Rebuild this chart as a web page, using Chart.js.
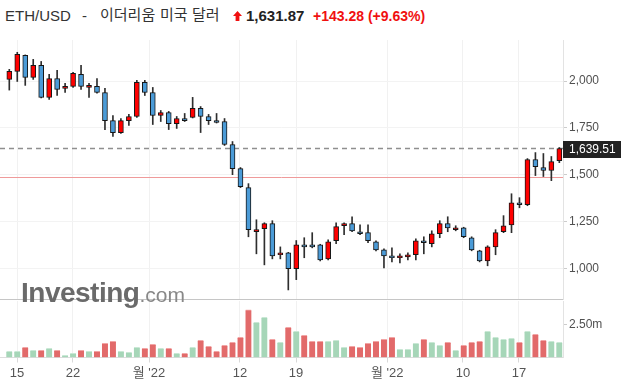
<!DOCTYPE html>
<html><head><meta charset="utf-8">
<script src="https://cdn.jsdelivr.net/npm/chart.js@4.4.1/dist/chart.umd.min.js"></script>
<style>
html,body{margin:0;padding:0;background:#fff;width:621px;height:388px;overflow:hidden;font-family:"Liberation Sans","Noto Sans CJK KR",Arial,sans-serif;}
#wrap{position:relative;width:621px;height:388px;}
.t{position:absolute;white-space:nowrap;line-height:20px;font-size:15px;color:#333;}
.k{font-family:"Noto Sans CJK KR",sans-serif;top:4px;}
.l{top:6px;}
canvas{position:absolute;left:0;}
#pc{top:30px;}
#vc{top:300px;}
#wm{position:absolute;left:21px;top:278px;line-height:30px;white-space:nowrap;color:#6a6a6a;}
#wm b{font-size:28px;font-weight:bold;letter-spacing:-0.5px;}
#wm span{font-size:21px;color:#888;}
</style></head>
<body><div id="wrap">
<span class="t l" style="left:5px">ETH/USD</span>
<span class="t l" style="left:82px">-</span>
<span class="t k" style="left:100px">이더리움</span>
<span class="t k" style="left:160px">미국</span>
<span class="t k" style="left:192px">달러</span>
<svg style="position:absolute;left:233px;top:11px" width="9" height="10" viewBox="0 0 9 10"><polygon points="4.5,0 9,5 6.4,5 6.4,10 2.6,10 2.6,5 0,5" fill="#f01010"/></svg>
<span class="t l" style="left:246px;font-weight:bold;color:#222">1,631.87</span>
<span class="t l" style="left:313px;font-weight:bold;font-size:14px;color:#f01010">+143.28 (+9.63%)</span>
<canvas id="pc" width="621" height="270"></canvas>
<canvas id="vc" width="621" height="88"></canvas>
<div id="wm"><b>Investing</b><span>.com</span></div>
</div>
<script>
const xLabels = ["15","22","월 '22","12","19","월 '22","10","17"];
const xTickPos = [0.97, 7.99, 17.53, 28.94, 35.97, 47.4, 56.9, 63.94];
const priceTicks = [1000,1250,1500,1750,2000];
const volTicks = [2.5];
const lastPrice = 1639.51;
const prevClose = 1488.59;

const open  = [2009,2052,2138,2020,2084,1913,2014,1961,1972,2036,1966,1972,1939,1789,1725,1789,1811,1993,1939,1816,1832,1773,1800,1806,1854,1811,1789,1784,1661,1532,1431,1195,1211,1238,1072,1082,997,1125,1125,1125,1050,1147,1227,1238,1195,1190,1141,1098,1066,1056,1061,1072,1147,1131,1184,1238,1206,1216,1163,1093,1039,1114,1195,1232,1350,1339,1581,1538,1522,1575];
const high  = [2063,2154,2140,2116,2105,2036,2057,1988,2047,2084,1988,2014,1961,1816,1800,1822,2004,2004,1966,1843,1838,1811,1827,1913,1864,1822,1827,1800,1677,1538,1452,1259,1243,1254,1114,1085,1148,1163,1190,1128,1152,1243,1243,1275,1232,1232,1147,1104,1109,1077,1082,1157,1168,1200,1254,1275,1227,1219,1168,1096,1120,1206,1281,1398,1377,1586,1618,1613,1597,1645];
const low   = [1952,1998,1977,2009,1910,1902,1923,1939,1966,1956,1913,1936,1741,1704,1720,1763,1806,1923,1768,1784,1741,1747,1784,1803,1725,1768,1776,1656,1500,1431,1168,1077,1018,1050,1050,884,939,1056,1109,1039,1045,1131,1179,1195,1179,1136,1093,1002,1034,1029,1045,1045,1077,1114,1163,1195,1200,1163,1093,1034,1013,1072,1190,1190,1323,1334,1495,1490,1468,1564];
const close = [2052,2143,2020,2084,1913,2014,1956,1972,2041,1972,1977,1940,1789,1725,1789,1811,1993,1939,1816,1832,1773,1800,1789,1854,1811,1789,1779,1661,1532,1436,1206,1206,1238,1066,1082,997,1125,1114,1114,1045,1141,1222,1238,1200,1184,1147,1098,1066,1056,1066,1072,1147,1136,1184,1238,1216,1216,1168,1098,1039,1114,1190,1227,1350,1339,1581,1543,1522,1570,1639.51];
const volume = [0.47,0.47,0.77,0.54,0.54,0.69,0.54,0.17,0.32,0.54,0.47,0.47,1.07,1.22,0.47,0.39,0.77,0.69,0.99,0.69,0.69,0.32,0.32,0.77,1.30,0.84,0.47,0.92,1.14,1.52,3.58,2.65,3.03,1.37,1.14,2.27,1.97,1.67,1.22,1.22,1.22,1.30,0.77,0.84,0.77,1.07,1.22,1.37,1.52,0.62,0.62,1.07,1.37,1.14,0.92,1.14,0.54,0.92,1.14,1.22,1.97,1.52,1.37,1.45,1.14,1.97,1.75,1.30,1.22,1.14];

const FONT = '"Liberation Sans","Noto Sans CJK KR",Arial,sans-serif';
const X_MIN = -1.167, X_MAX = 69.46;
const up = open.map((o,i)=> close[i] >= o);
const fitY = s => { s.width = 58; s.paddingTop = 0; s.paddingBottom = 0; };

const priceLines = {
  id:'priceLines',
  beforeDatasetsDraw(chart){
    const {ctx, chartArea:a, scales:{y}} = chart;
    ctx.save();
    const yp = Math.round(y.getPixelForValue(prevClose)) + 0.5;
    ctx.strokeStyle = '#ef9a9a'; ctx.lineWidth = 1;
    ctx.beginPath(); ctx.moveTo(a.left, yp); ctx.lineTo(a.right, yp); ctx.stroke();
    const yl = y.getPixelForValue(lastPrice);
    ctx.setLineDash([5,4]); ctx.strokeStyle = '#8f8f8f'; ctx.lineWidth = 1.5;
    ctx.beginPath(); ctx.moveTo(a.left, yl); ctx.lineTo(a.right, yl); ctx.stroke();
    ctx.restore();
  },
  afterDraw(chart){
    const {ctx, chartArea:a, scales:{y}} = chart;
    ctx.save();
    ctx.strokeStyle = '#c6c6c6'; ctx.lineWidth = 1;
    ctx.beginPath(); ctx.moveTo(0, a.bottom - 0.5); ctx.lineTo(a.right, a.bottom - 0.5); ctx.stroke();
    const yl = y.getPixelForValue(lastPrice);
    ctx.fillStyle = '#222';
    ctx.fillRect(a.right, Math.round(yl) - 8, chart.width - a.right, 17);
    ctx.fillStyle = '#fff'; ctx.font = '12px ' + FONT;
    ctx.textBaseline = 'middle'; ctx.textAlign = 'left';
    ctx.fillText(lastPrice.toLocaleString('en-US',{minimumFractionDigits:2}), a.right + 6, Math.round(yl) + 0.5);
    ctx.restore();
  }
};

new Chart(document.getElementById('pc'), {
  type:'bar',
  data:{datasets:[
    {data: open.map((o,i)=>({x:i, y:[o, close[i]]})), barThickness:5, grouped:false, order:0,
     backgroundColor: up.map(u=> u ? '#ff0000' : '#4b9bd7'), borderColor:'#161616', borderWidth:1, borderSkipped:false},
    {data: low.map((l,i)=>({x:i, y:[l, high[i]]})), barThickness:1, grouped:false, order:1,
     backgroundColor:'#2e2e2e', borderWidth:0}
  ]},
  options:{
    responsive:false, animation:false, devicePixelRatio:1,
    layout:{autoPadding:false, padding:{top:10, bottom:0, left:0, right:0}},
    plugins:{legend:{display:false}, tooltip:{enabled:false}},
    scales:{
      x:{type:'linear', min:X_MIN, max:X_MAX, offset:false,
         afterBuildTicks: s => { s.ticks = xTickPos.map(v=>({value:v})); },
         afterFit: s => { s.height = 0; s.paddingLeft = 0; s.paddingRight = 0; },
         ticks:{display:false},
         grid:{color:'#f1f1f1', drawTicks:false, offset:false}, border:{display:false}},
      y:{position:'right', min:830.2, max:2219.6,
         afterBuildTicks: s => { s.ticks = priceTicks.map(v=>({value:v})); },
         afterFit: fitY,
         ticks:{callback: v => v.toLocaleString('en-US'), font:{size:12, family:FONT}, color:'#505050', padding:2},
         grid:{color:'#f3f3f3', tickColor:'#cccccc', tickLength:4},
         border:{color:'#e3e3e3'}}
    }
  },
  plugins:[priceLines]
});

new Chart(document.getElementById('vc'), {
  type:'bar',
  data:{datasets:[
    {data: volume.map((v,i)=>({x:i, y:v})), barThickness:6,
     backgroundColor: up.map(u=> u ? '#a6d6b8' : '#e26a6a'),
     borderColor: up.map(u=> u ? '#c9e8d5' : '#f2a5a5'),
     borderWidth:{top:1, left:0, right:0, bottom:0}, borderSkipped:'bottom'}
  ]},
  options:{
    responsive:false, animation:false, devicePixelRatio:1,
    layout:{autoPadding:false, padding:{top:1, bottom:0, left:0, right:0}},
    plugins:{legend:{display:false}, tooltip:{enabled:false}},
    scales:{
      x:{type:'linear', min:X_MIN, max:X_MAX, offset:false,
         afterBuildTicks: s => { s.ticks = xTickPos.map(v=>({value:v})); },
         afterFit: s => { s.height = 30.5; s.paddingLeft = 0; s.paddingRight = 0; },
         ticks:{callback:(v,i)=> xLabels[i], font:{size:13, family:FONT}, color:'#555', padding:3, maxRotation:0, autoSkip:false},
         grid:{color:'#f1f1f1', tickColor:'#d9d9d9', tickLength:5, offset:false},
         border:{color:'#dddddd'}},
      y:{position:'right', min:0, max:4.254,
         afterBuildTicks: s => { s.ticks = volTicks.map(v=>({value:v})); },
         afterFit: fitY,
         ticks:{callback: v => v.toFixed(2) + 'm', font:{size:12, family:FONT}, color:'#505050', padding:2},
         grid:{drawOnChartArea:false, tickColor:'#cccccc', tickLength:4},
         border:{color:'#e3e3e3'}}
    }
  }
});
</script>
</body></html>
